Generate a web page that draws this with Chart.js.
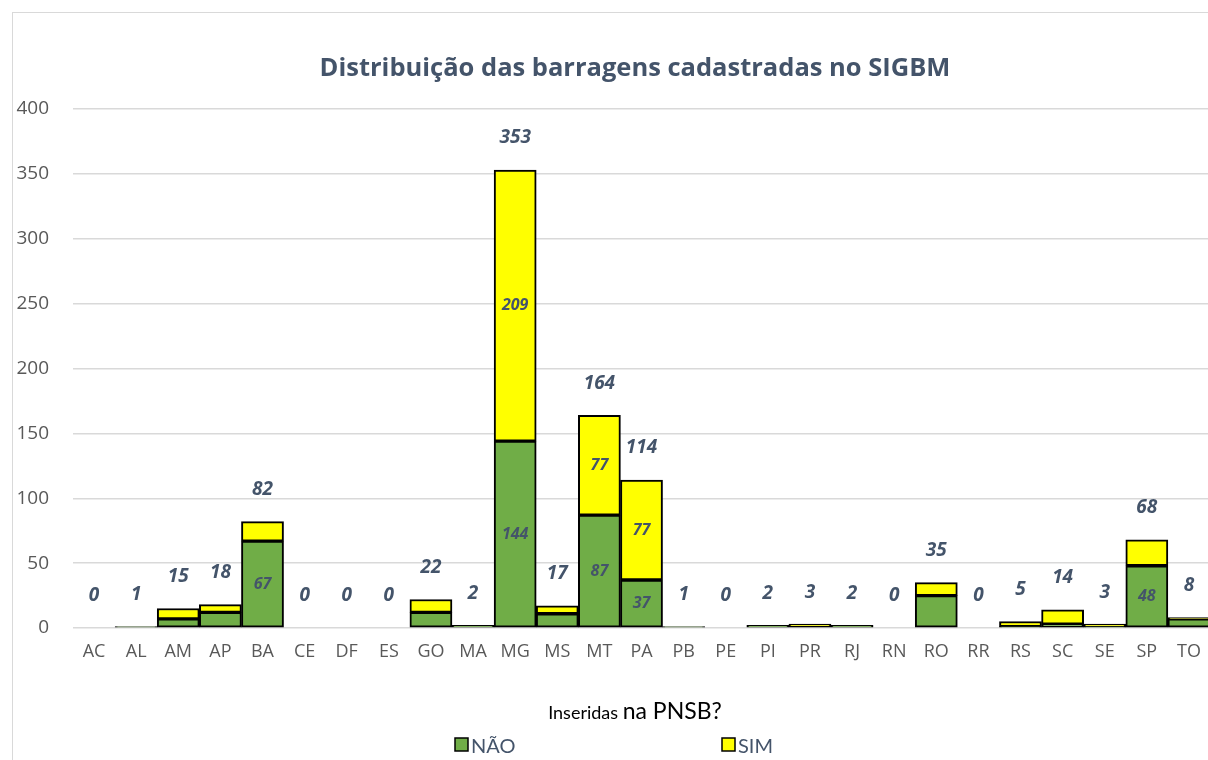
<!DOCTYPE html>
<html>
<head>
<meta charset="utf-8">
<script src="https://cdn.jsdelivr.net/npm/chart.js@4"></script>
<style>
  html, body { margin: 0; padding: 0; background: #fff; overflow: hidden; }
  #frame {
    position: absolute; left: 12px; top: 12px;
    width: 1244px; height: 760px;
    border: 1.5px solid #d9d9d9; box-sizing: border-box;
  }
  #chart { position: absolute; left: 0; top: 0; }
</style>
</head>
<body>
<div id="frame">
  <canvas id="chart" width="1244" height="748"></canvas>
</div>
<script>
// data
const states = ['AC', 'AL', 'AM', 'AP', 'BA', 'CE', 'DF', 'ES', 'GO', 'MA', 'MG', 'MS', 'MT', 'PA',
  'PB', 'PE', 'PI', 'PR', 'RJ', 'RN', 'RO', 'RR', 'RS', 'SC', 'SE', 'SP', 'TO'];
const nao = [0, 1, 7, 12, 67, 0, 0, 0, 12, 2, 144, 11, 87, 37, 1, 0, 2, 0, 2, 0, 25, 0, 1, 3, 1, 48, 7];
const sim = [0, 0, 8, 6, 15, 0, 0, 0, 10, 0, 209, 6, 77, 77, 0, 0, 0, 3, 0, 0, 10, 0, 4, 11, 2, 20, 1];
const totals = states.map((s, i) => nao[i] + sim[i]);

const titleText = 'Distribuição das barragens cadastradas no SIGBM';
const slate = '#44546A';
const axisGray = '#595959';

// segment labels inside the bars + totals above the stack
const labelsPlugin = {
  id: 'barLabels',
  afterDatasetsDraw(chart) {
    const ctx = chart.ctx;
    const y = chart.scales.y;
    ctx.save();
    ctx.fillStyle = slate;
    ctx.textAlign = 'center';
    ctx.textBaseline = 'middle';

    ctx.font = 'italic bold 16px "Open Sans"';
    chart.data.datasets.forEach((ds, di) => {
      chart.getDatasetMeta(di).data.forEach((bar, i) => {
        const v = ds.data[i];
        if (v < 30) return;
        ctx.fillText(String(v), bar.x, (bar.y + bar.base) / 2);
      });
    });

    ctx.font = 'italic bold 19px "Open Sans"';
    const meta = chart.getDatasetMeta(0);
    totals.forEach((t, i) => {
      ctx.fillText(String(t), meta.data[i].x, y.getPixelForValue(t) - 32);
    });
    ctx.restore();
  }
};

// title and legend, both centred on the whole frame
const frameTextPlugin = {
  id: 'frameText',
  afterDraw(chart) {
    const ctx = chart.ctx;
    const cx = chart.width / 2;
    ctx.save();

    ctx.fillStyle = slate;
    ctx.textAlign = 'center';
    ctx.textBaseline = 'middle';
    ctx.font = 'bold 25.5px "Open Sans"';
    ctx.fillText(titleText, cx, 56);

    ctx.textBaseline = 'alphabetic';
    ctx.fillStyle = '#000';
    const a = 'Inseridas ', b = 'na PNSB?';
    ctx.font = '18px Lato';
    const wa = ctx.measureText(a).width;
    ctx.font = '23px Lato';
    const wb = ctx.measureText(b).width;
    let x = cx - (wa + wb) / 2;
    ctx.font = '18px Lato';
    ctx.textAlign = 'left';
    ctx.fillText(a, x, 706);
    ctx.font = '23px Lato';
    ctx.fillText(b, x + wa, 706);

    const items = [
      { text: 'NÃO', x: cx - 180 },
      { text: 'SIM', x: cx + 87 }
    ];
    ctx.font = '20px Lato';
    items.forEach((it, i) => {
      const ds = chart.data.datasets[i];
      ctx.fillStyle = ds.backgroundColor;
      ctx.fillRect(it.x, 725, 13, 13);
      ctx.strokeStyle = '#000';
      ctx.lineWidth = 1.5;
      ctx.strokeRect(it.x, 725, 13, 13);
      ctx.fillStyle = slate;
      ctx.fillText(it.text, it.x + 16, 740);
    });
    ctx.restore();
  }
};

function draw() {
  new Chart(document.getElementById('chart'), {
    type: 'bar',
    data: {
      labels: states,
      datasets: [
        {
          label: 'NÃO',
          data: nao,
          backgroundColor: '#70AD47',
          borderColor: '#000',
          borderWidth: 2,
          borderSkipped: false
        },
        {
          label: 'SIM',
          data: sim,
          backgroundColor: '#FFFF00',
          borderColor: '#000',
          borderWidth: 2,
          borderSkipped: false
        }
      ]
    },
    options: {
      responsive: false,
      animation: false,
      layout: { padding: { left: 0, right: 47, top: 96, bottom: 0 } },
      datasets: { bar: { barPercentage: 1, categoryPercentage: 1 } },
      plugins: {
        legend: { display: false },
        tooltip: { enabled: false },
        title: { display: false }
      },
      scales: {
        x: {
          stacked: true,
          grid: { display: false },
          border: { display: false },
          ticks: { color: axisGray, font: { family: '"Open Sans"', size: 18 }, padding: 5, maxRotation: 0 },
          afterFit(scale) { scale.height = 133; }
        },
        y: {
          stacked: true,
          min: 0,
          max: 400,
          ticks: { stepSize: 50, color: axisGray, font: { family: '"Open Sans"', size: 19 }, padding: 24 },
          grid: { color: '#d9d9d9', lineWidth: 1.5, drawTicks: false },
          border: { display: false },
          afterFit(scale) { scale.width = 60; }
        }
      }
    },
    plugins: [labelsPlugin, frameTextPlugin]
  });
}

Promise.all([
  document.fonts.load('bold 24px "Open Sans"'),
  document.fonts.load('italic bold 19px "Open Sans"'),
  document.fonts.load('18px "Open Sans"'),
  document.fonts.load('20px Lato')
]).then(draw, draw);
</script>
</body>
</html>
